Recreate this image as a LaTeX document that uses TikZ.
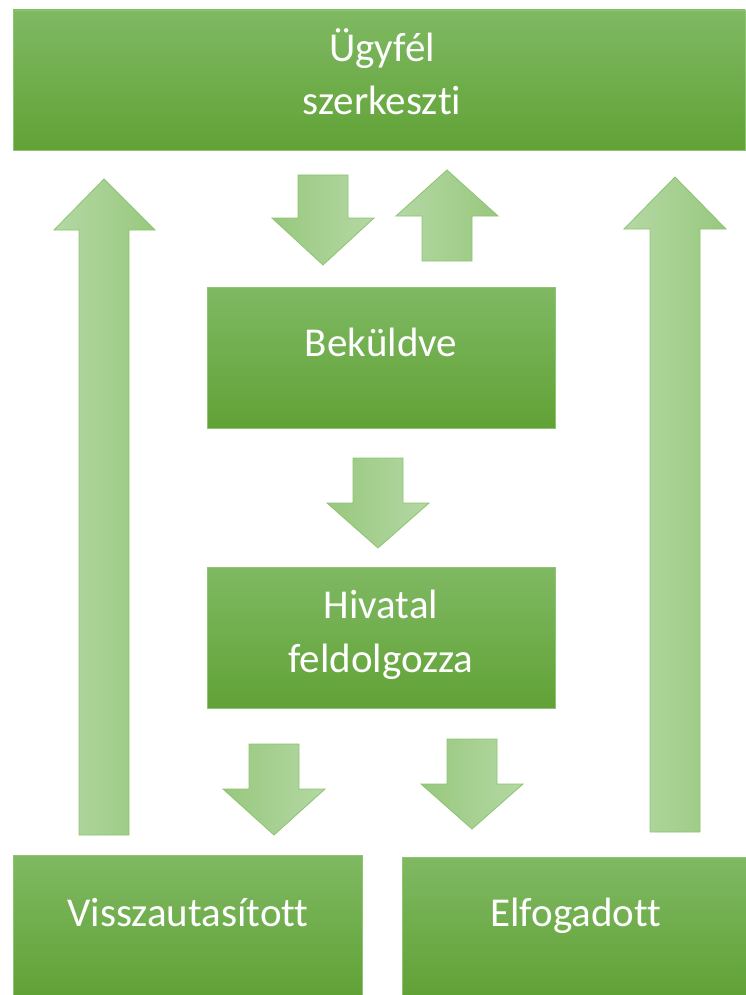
\documentclass[tikz,border=0pt]{standalone}
\usepackage{fontspec}
\setmainfont[Ligatures=NoCommon]{Carlito}
\definecolor{boxtop}{HTML}{7FB963}
\definecolor{boxbot}{HTML}{61A236}
\definecolor{boxline}{HTML}{8DC572}
\definecolor{arrdark}{HTML}{98C87E}
\definecolor{arrlight}{HTML}{B4D8A4}
\definecolor{arrline}{HTML}{8CC46F}
\tikzset{
  box/.style={draw=boxline, line width=0.8pt, top color=boxtop, bottom color=boxbot, inner sep=0pt},
  txt/.style={text=white, anchor=base, font=\fontsize{41}{53}\selectfont, inner sep=0pt},
  downarr/.style={draw=arrline, line width=0.8pt, line join=miter, left color=arrdark, right color=arrlight},
  uparr/.style={draw=arrline, line width=0.8pt, line join=miter, left color=arrlight, right color=arrdark}
}
\begin{document}
\begin{tikzpicture}[x=1pt,y=-1pt]
\useasboundingbox (0,0) rectangle (745,995);
% boxes
\node[box, minimum width=732pt, minimum height=140pt] (ugy) at (379,80) {};
\node[box, minimum width=348pt, minimum height=141pt] (bek) at (381.5,357.5) {};
\node[box, minimum width=348pt, minimum height=141pt] (hiv) at (381.5,637.5) {};
\node[box, minimum width=349pt, minimum height=140pt] (vis) at (187.5,925) {};
\node[box, minimum width=344pt, minimum height=138pt] (elf) at (574,926) {};
% texts
\node[txt] (ugy1) at (382,62) {Ügyfél};
\node[txt] (ugy2) at (382,115) {szerkeszti};
\node[txt] (bekt) at (381,356) {Beküldve};
\node[txt] (hiv1) at (381,618) {Hivatal};
\node[txt] (hiv2) at (381,672) {feldolgozza};
\node[txt] (vist) at (188,926) {Visszautasított};
\node[txt] (elft) at (576,926) {Elfogadott};
% arrows between ugy and bek
\path[downarr] (298,175) -- (348,175) -- (348,218) -- (374,218) -- (323,265) -- (272,218) -- (298,218) -- cycle;
\path[uparr] (422,261) -- (472,261) -- (472,216) -- (498,216) -- (447,170) -- (396,216) -- (422,216) -- cycle;
% bek -> hiv
\path[downarr] (353,458) -- (403,458) -- (403,503) -- (429,503) -- (378,548) -- (327,503) -- (353,503) -- cycle;
% hiv -> vis, elf
\path[downarr] (249,744) -- (299,744) -- (299,789) -- (325,789) -- (274,835) -- (223,789) -- (249,789) -- cycle;
\path[downarr] (447,739) -- (497,739) -- (497,784) -- (523,784) -- (472,829) -- (421,784) -- (447,784) -- cycle;
% big return arrows
\path[uparr] (79,835) -- (129,835) -- (129,230) -- (155,230) -- (104,179) -- (54,230) -- (79,230) -- cycle;
\path[uparr] (650,832) -- (700,832) -- (700,229) -- (726,229) -- (675,177) -- (624,229) -- (650,229) -- cycle;
\end{tikzpicture}
\end{document}
